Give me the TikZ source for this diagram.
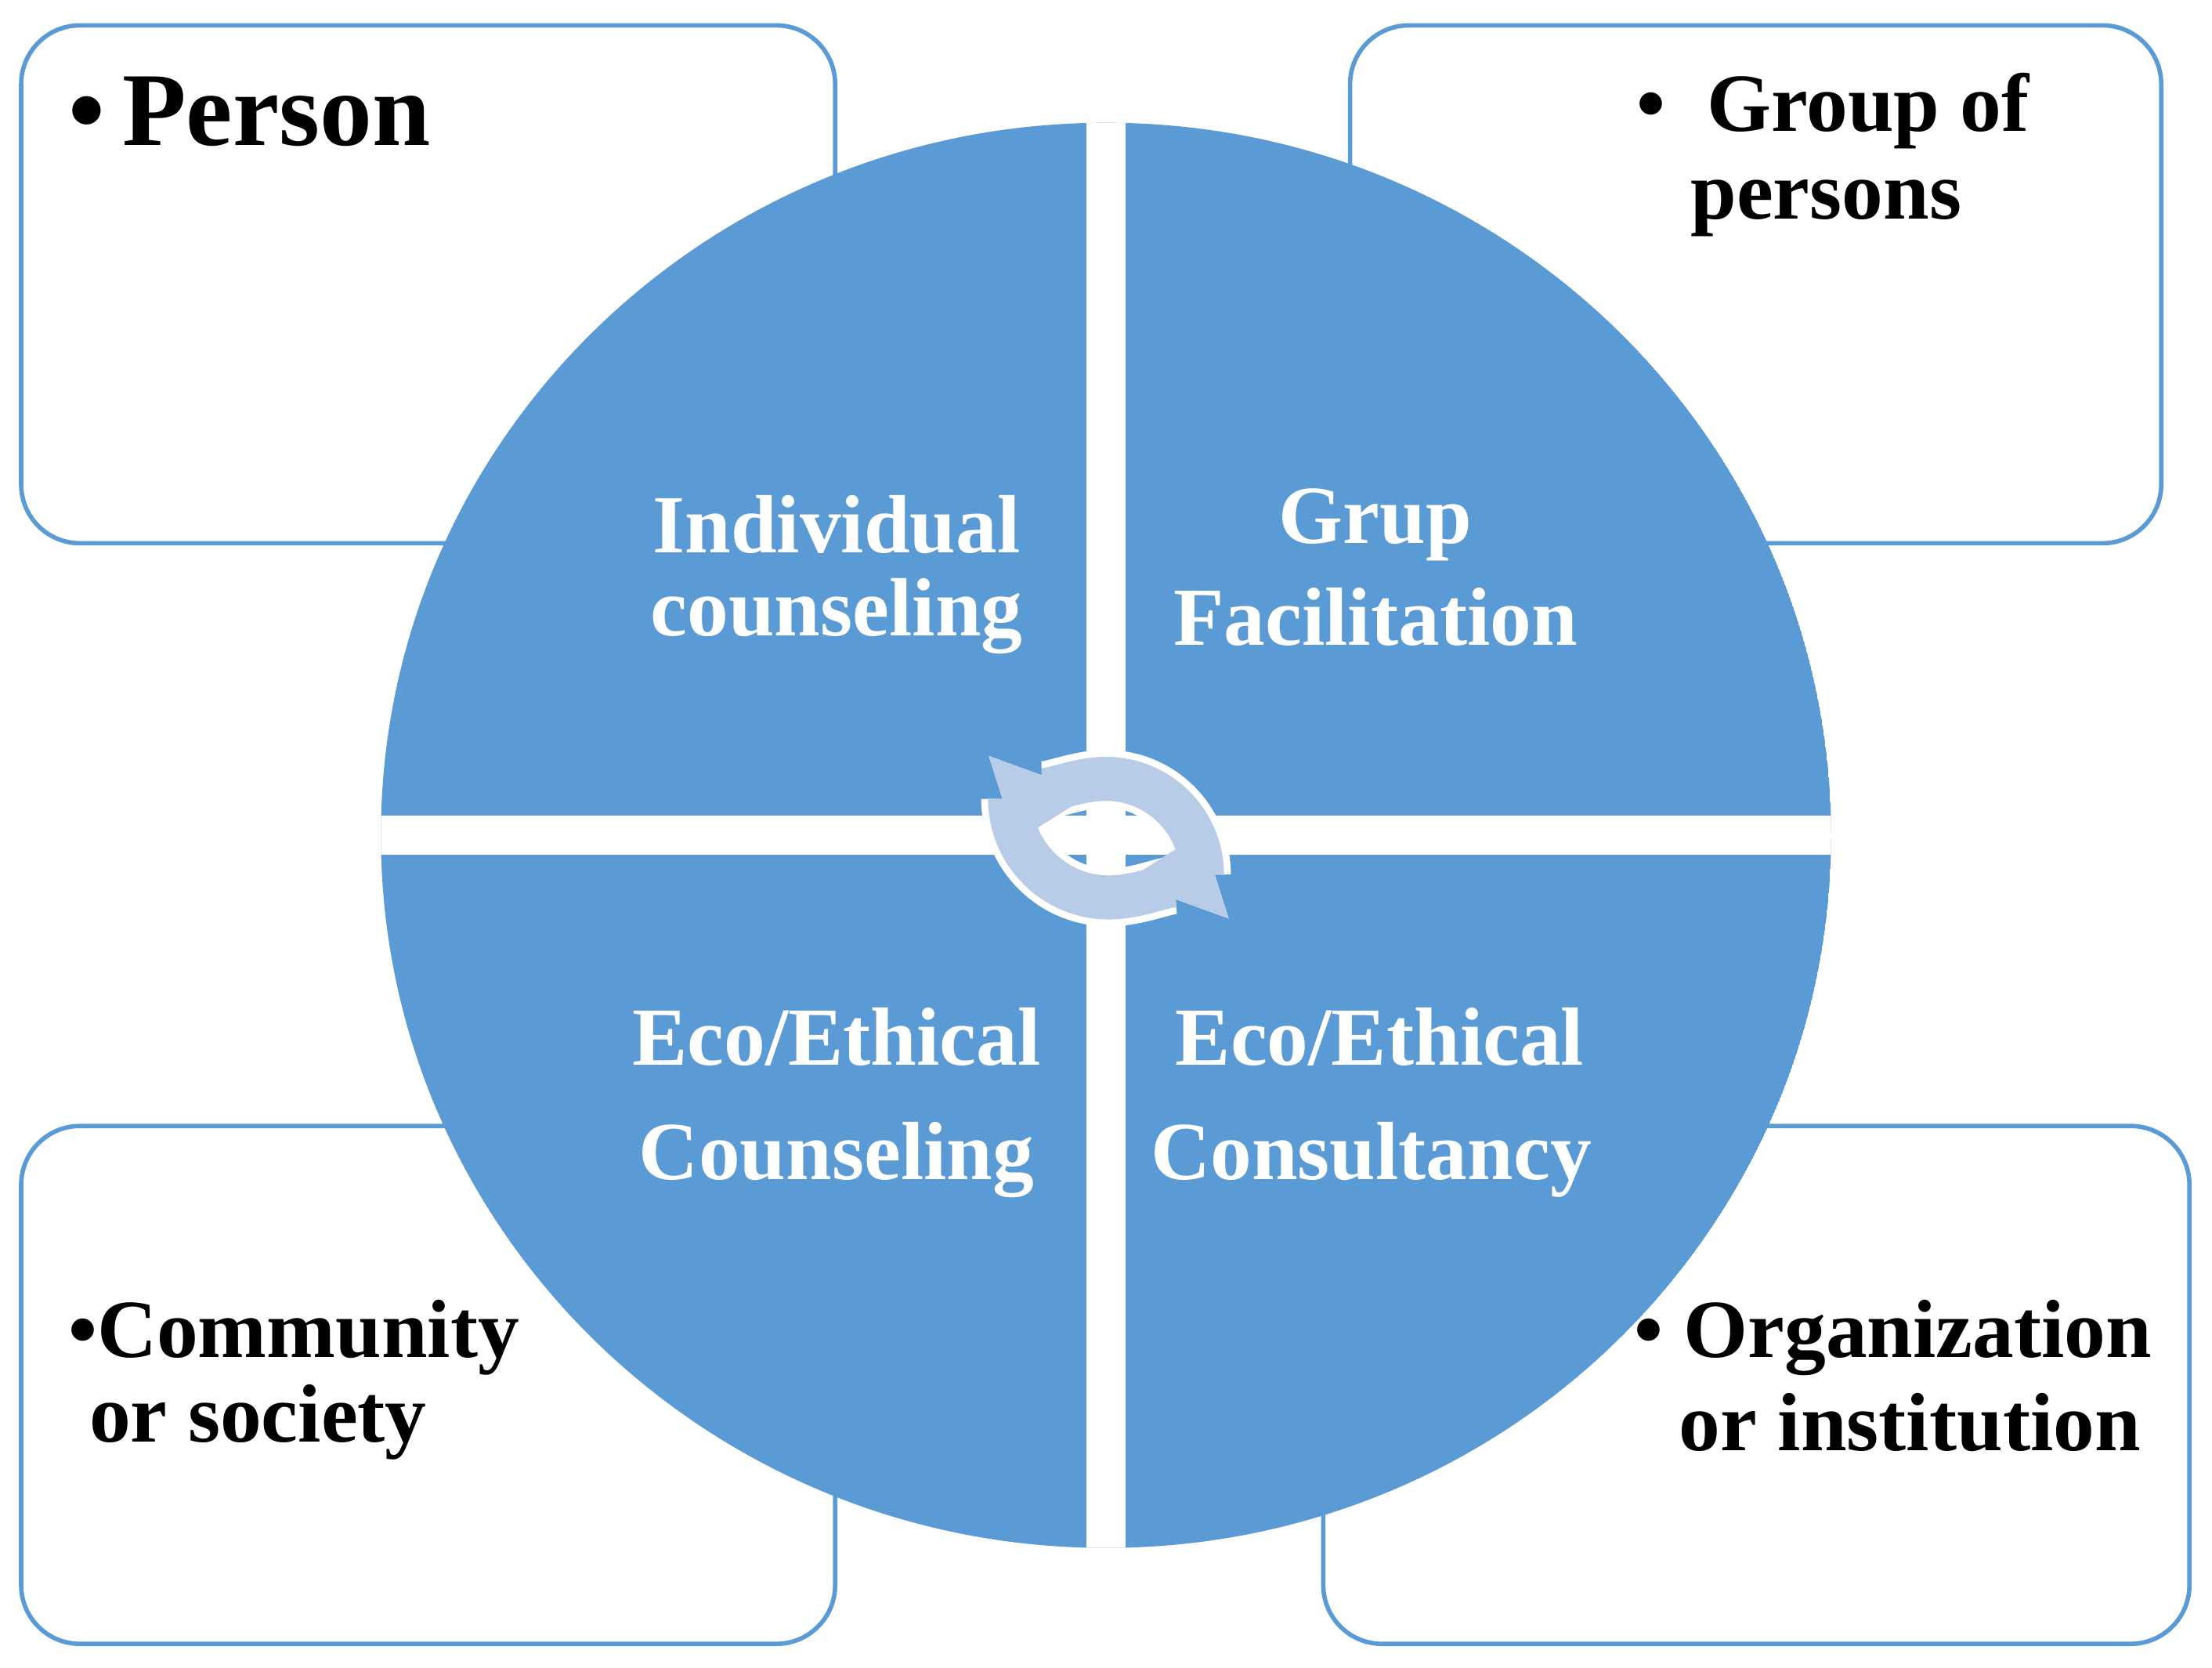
\documentclass[tikz,border=0pt]{standalone}
\usepackage{fontspec}
\setmainfont{Liberation Serif}
\usetikzlibrary{arrows.meta}
\definecolor{qblue}{HTML}{5B9BD5}
\definecolor{lblue}{HTML}{B8CCE8}
\begin{document}
\begin{tikzpicture}[x=0.018cm,y=-0.018cm,
  box/.style={draw=qblue,line width=1.6pt,fill=white,rounded corners=0.75cm},
  wt/.style={text=white,font=\bfseries\fontsize{30}{34}\selectfont,inner sep=0pt},
  bt/.style={text=black,font=\bfseries\fontsize{30}{34}\selectfont,inner sep=0pt,anchor=base west},
  carrow/.style={line width=16pt,-{Triangle[length=22pt,width=34pt]}}]
\useasboundingbox (0,0) rectangle (1568,1182);
\fill[white] (0,0) rectangle (1568,1182);
\draw[box] (15,18) rectangle (592,385);
\draw[box] (957,18) rectangle (1532,385);
\draw[box] (15,798) rectangle (592,1165);
\draw[box] (938,798) rectangle (1552,1165);
\coordinate (c) at (784,592);
\begin{scope}
\clip (c) circle [x radius=514,y radius=505];
\fill[qblue] (c) circle [x radius=514,y radius=505];
\fill[white] (770,0) rectangle (798,1182);
\fill[white] (0,578) rectangle (1568,606);
\end{scope}
% circular arrows
\foreach \w/\col in {21pt/white,16pt/lblue}{
  \draw[line width=\w,draw=\col,-{Triangle[length=26pt,width=38pt]},shorten >=0pt]
    (716,566) arc[start angle=180,end angle=20,radius=70];
  \draw[line width=\w,draw=\col,-{Triangle[length=26pt,width=38pt]}]
    (852,620) arc[start angle=0,end angle=-160,radius=68];
}
\node[wt] (t1) at (593,372) {Individual};
\node[wt] (t2) at (593,437) {counseling};
\node[wt] (t3) at (975,372) {Grup};
\node[wt] (t4) at (975,437) {Facilitation};
\node[wt] (t5) at (593,735) {Eco/Ethical};
\node[wt] (t6) at (593,822) {Counseling};
\node[wt] (t7) at (978,735) {Eco/Ethical};
\node[wt] (t8) at (972,822) {Consultancy};
\node[bt,font=\bfseries\fontsize{38}{40}\selectfont] (p) at (48,103) {•\,Person};
\node[bt] (g1) at (1160,93) {•\ \ Group of};
\node[bt] (g2) at (1198,155) {persons};
\node[bt] (c1) at (48,962) {•Community};
\node[bt] (c2) at (63,1022) {or society};
\node[bt] (o1) at (1158,962) {•\ Organization};
\node[bt] (o2) at (1190,1028) {or institution};
\end{tikzpicture}
\end{document}
